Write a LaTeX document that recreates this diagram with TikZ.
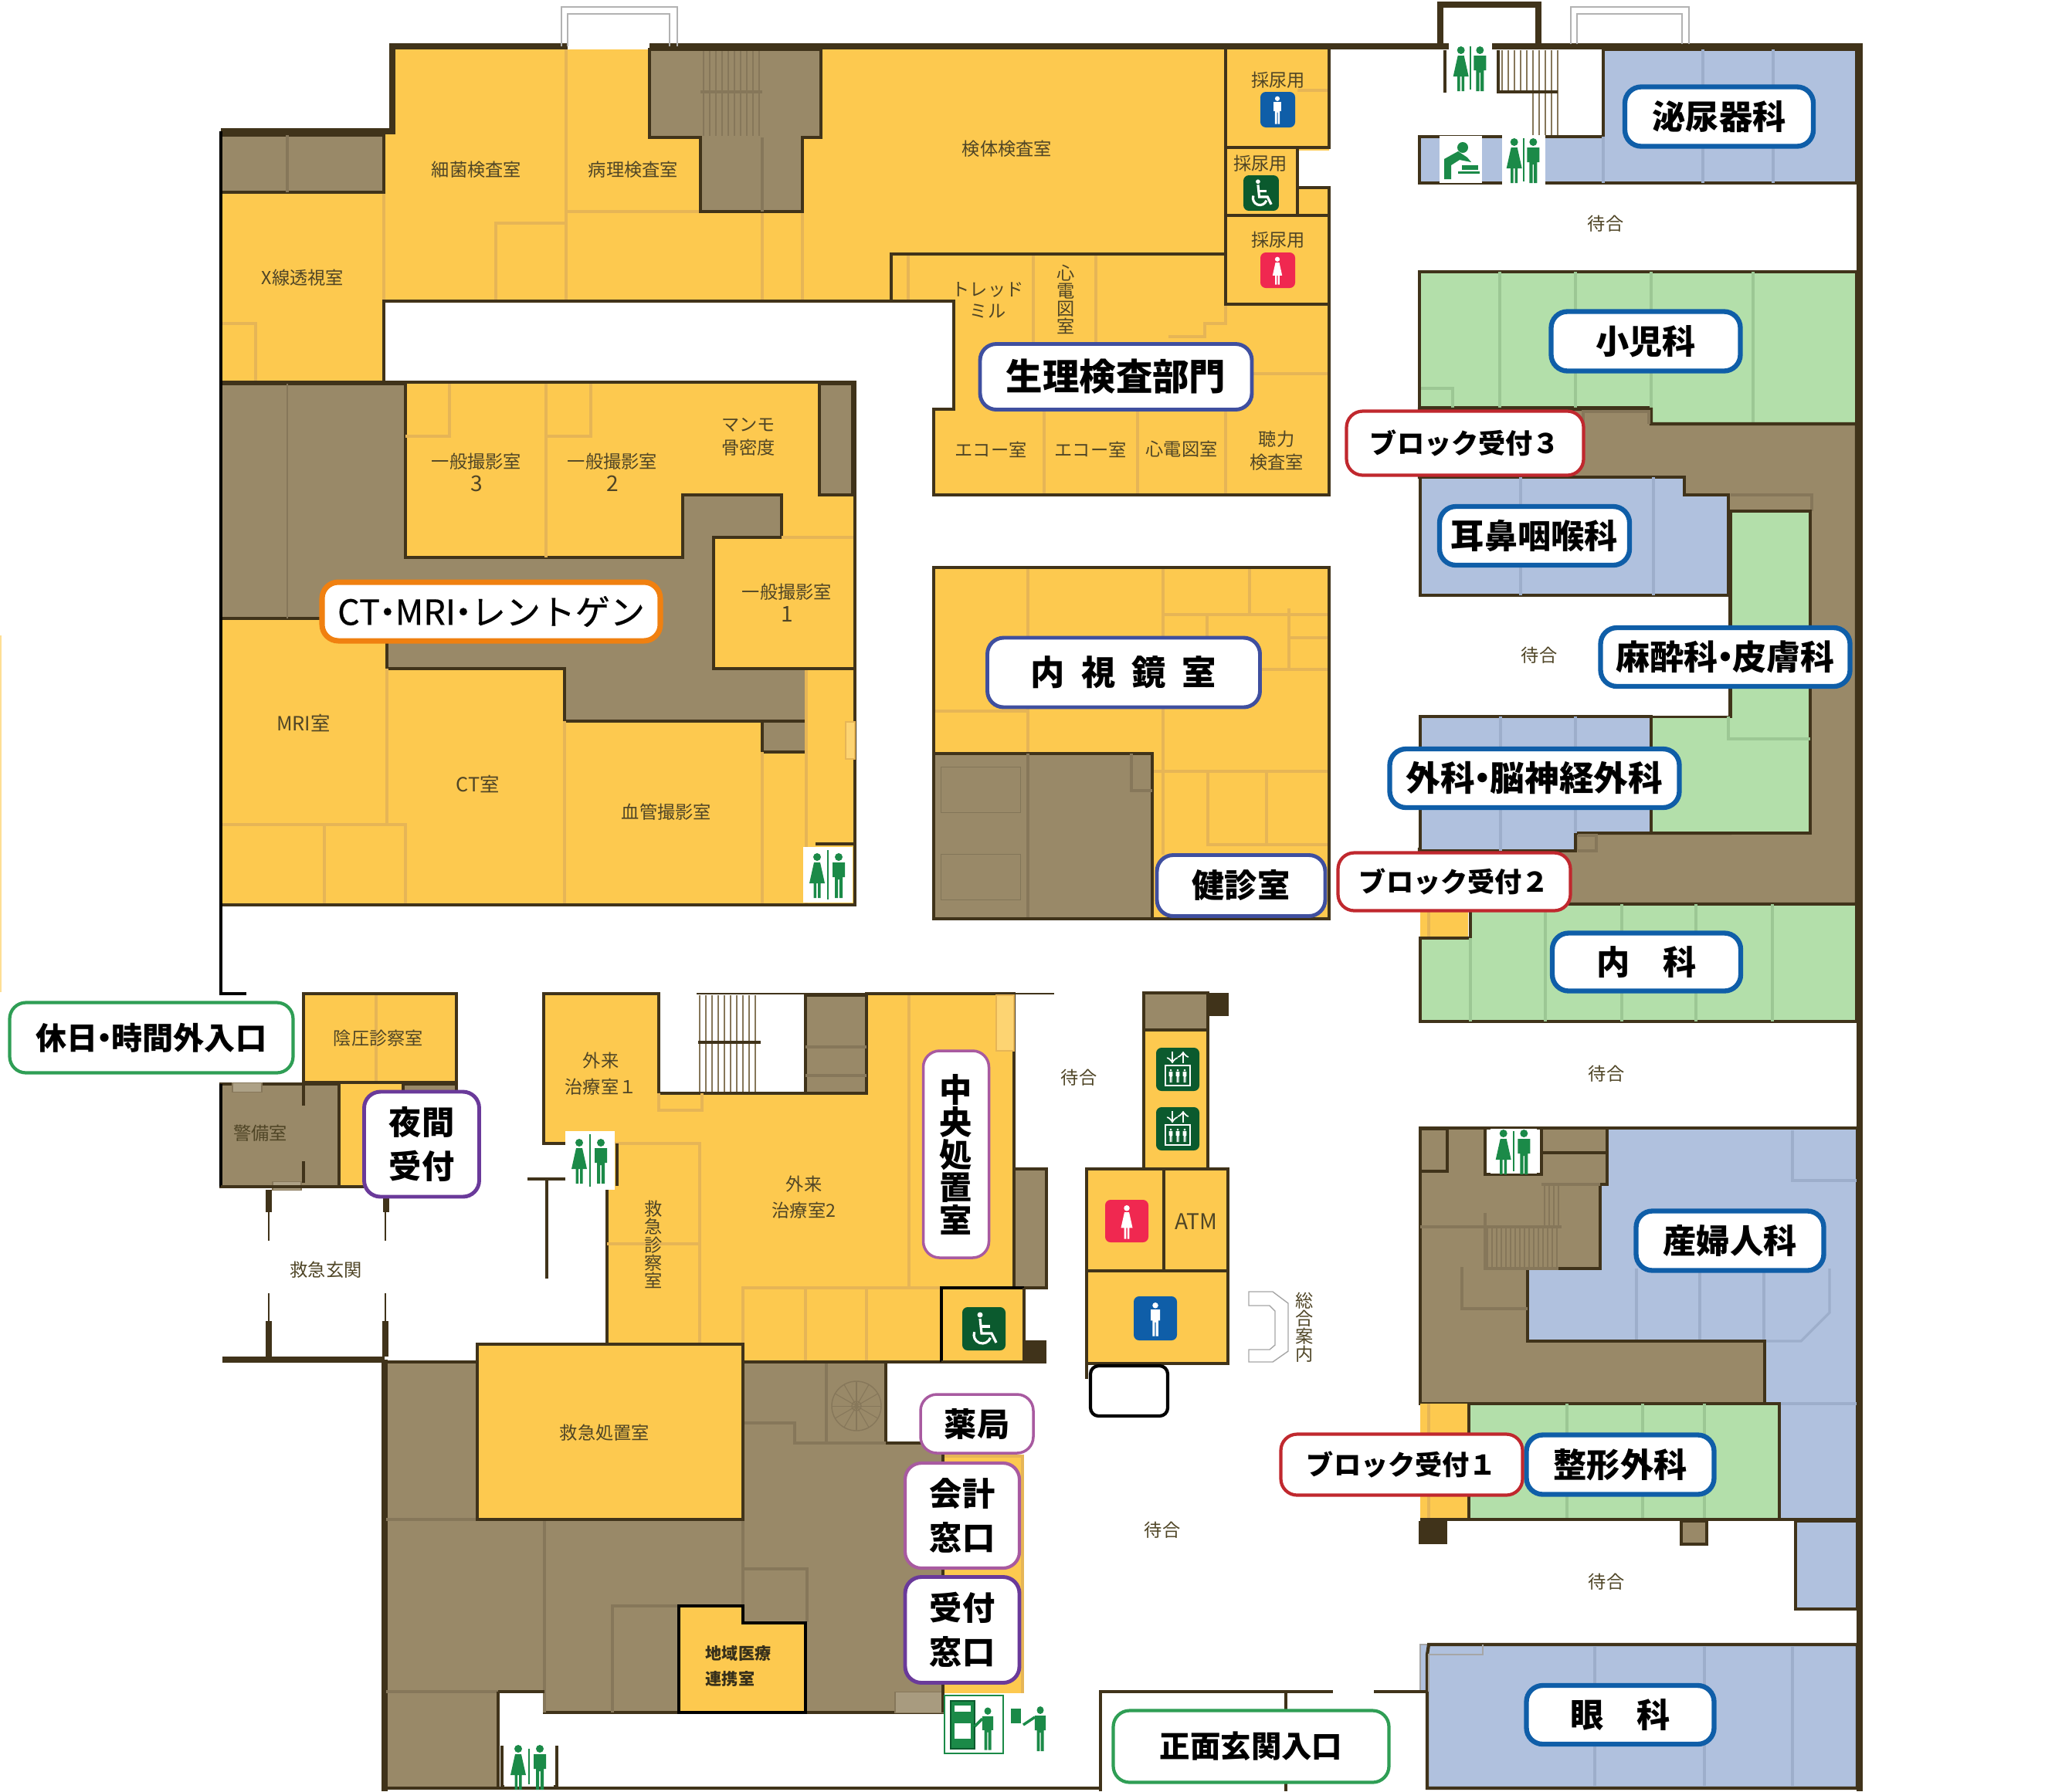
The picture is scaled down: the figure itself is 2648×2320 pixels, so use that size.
\documentclass[tikz,border=0pt]{standalone}
\usepackage{fontspec}
\setmainfont{Noto Sans CJK JP}
\newfontfamily\jpmed{Noto Sans CJK JP}[FakeBold=0.5]
\usepackage{xcolor}

\definecolor{yelc}{HTML}{FDC94F}
\definecolor{yell}{HTML}{E6B556}
\definecolor{brnc}{HTML}{998968}
\definecolor{brnl}{HTML}{86775A}
\definecolor{bluc}{HTML}{B0C1DE}
\definecolor{blul}{HTML}{9DAECB}
\definecolor{grnc}{HTML}{B3DFAA}
\definecolor{grnl}{HTML}{9CC794}
\definecolor{wallc}{HTML}{40331A}
\definecolor{txtc}{HTML}{4F4526}
\definecolor{signg}{HTML}{1B8A48}
\definecolor{signd}{HTML}{0B5A2E}
\definecolor{signb}{HTML}{0F5EA8}
\definecolor{signr}{HTML}{F02850}
\definecolor{tagnavy}{HTML}{3F4F9F}
\definecolor{tagorg}{HTML}{F08010}
\definecolor{tagblu}{HTML}{0F5EA8}
\definecolor{tagred}{HTML}{C0282E}
\definecolor{taggrn}{HTML}{2F9E55}
\definecolor{tagpur}{HTML}{6A3A9A}
\definecolor{tagpnk}{HTML}{A85AA0}

\newcommand{\fsz}[1]{\fontsize{#1}{#1}\selectfont}
\newcommand{\ndot}{\hspace{-0.28em}・\hspace{-0.28em}}

\tikzset{
  wall/.style={wallc,line width=1.2pt},
  wallx/.style={wallc,line width=2.4pt},
  fline/.style={yell,line width=0.9pt},
  bline/.style={brnl,line width=0.9pt},
  uline/.style={blul,line width=0.9pt},
  gline/.style={grnl,line width=0.9pt},
  stairl/.style={brnl,line width=0.3pt},
  rm/.style={font=\bfseries\fsz{6},text=txtc!70!black,inner sep=0,align=left},
  rmv/.style={font=\fsz{6.6},text=txtc,inner sep=0,align=center},
  tag/.style n args={3}{draw=#1,fill=white,rounded corners=6pt,line width=1.8pt,inner sep=0,align=center,text=black,
    minimum width=#2*0.01cm,minimum height=#3*0.01cm},
  pics/man/.style={code={
    \fill[#1] (0,-23) circle [radius=5];
    \fill[#1] (-8,-16)--(8,-16)--(8,3)--(5,3)--(5,30)--(0.8,30)--(0.8,6)--(-0.8,6)--(-0.8,30)--(-5,30)--(-5,3)--(-8,3)--cycle;
  }},
  pics/lady/.style={code={
    \fill[#1] (0,-23) circle [radius=5];
    \fill[#1] (-4,-16)--(4,-16)--(10,11)--(4.5,11)--(4.5,30)--(1,30)--(1,11)--(-1,11)--(-1,30)--(-4.5,30)--(-4.5,11)--(-10,11)--cycle;
  }},
  pics/wcsign/.style={code={
    \fill[white] (-32,-36) rectangle (32,36);
    \pic at (-14,0) {lady=signg};
    \pic at (14,0) {man=signg};
    \draw[signg,line width=0.5pt] (0,-32)--(0,32);
  }},
  pics/wheelc/.style={code={
    \fill[signd,rounded corners=2pt] (-28,-28) rectangle (28,28);
    \fill[white] (-5,-18) circle [radius=3.5];
    \draw[white,line width=0.9pt] (-5,-13)--(-3,6)--(10,6)--(16,18);
    \draw[white,line width=0.9pt] (-4,-3)--(8,-3);
    \draw[white,line width=0.9pt] (-12.3,4.2) arc (200:20:11);
  }},
  pics/liftsign/.style={code={
    \fill[signd,rounded corners=2pt] (-28,-28) rectangle (28,28);
    \draw[white,line width=0.6pt,->,>=to] (-7,-23)--(-7,-8);
    \draw[white,line width=0.6pt,->,>=to] (7,-8)--(7,-23);
    \draw[white,line width=0.5pt] (-16,-5) rectangle (16,21);
    \foreach \x in {-9,0,9} {\pic[scale=0.3] at (\x,8) {man=white};}
  }}
}

\begin{document}
\begin{tikzpicture}[x=0.01cm,y=-0.01cm]
\useasboundingbox (0,0) rectangle (2648,2320);

\fill[yelc!60!white] (0,823) rectangle (2,1285);

% upper wing
\begin{scope} {
\fill[yelc] (508,64)--(1721,64)--(1721,641)--(1209,641)--(1209,530)--(1235,530)--(1235,392)--(497,392)--(497,495)--(286,495)--(286,170)--(508,170)--cycle;
\fill[white] (1680,195) rectangle (1730,243);

\draw[fline] (733,60)--(733,390);
\draw[fline] (733,274)--(907,274);
\draw[fline] (642,390)--(642,289)--(733,289);
\draw[fline] (497,249)--(497,392);
\draw[fline] (987,274)--(987,390);
\draw[fline] (1039,274)--(1039,390);
\draw[fline] (286,419)--(331,419)--(331,495);
\draw[fline] (1176,329)--(1176,390);
\draw[fline] (1338,329)--(1338,445);
\draw[fline] (1419,329)--(1419,445);
\draw[fline] (1587,394)--(1587,419)--(1560,419)--(1560,436)--(1513,436);
\draw[fline] (1623,484)--(1721,484);
\draw[fline] (1352,530)--(1352,641);
\draw[fline] (1473,530)--(1473,641);
\draw[fline] (1587,530)--(1587,641);
\draw[fline] (1680,117)--(1721,117);

\filldraw[wall,fill=brnc] (286,175) rectangle (497,249);
\draw[bline] (372,175)--(372,249);
\filldraw[wall,fill=brnc] (841,64)--(1063,64)--(1063,178)--(1039,178)--(1039,274)--(907,274)--(907,178)--(841,178)--cycle;
\draw[bline] (987,178)--(987,274);
\foreach \x in {911,919,...,987} {\draw[stairl] (\x,66)--(\x,176);}
\draw[bline] (907,119)--(987,119);

\draw[wallx] (286,170)--(508,170)--(508,60)--(735,60);
\draw[wallx] (841,60)--(2412,60);
\draw[wall] (286,495)--(497,495)--(497,390)--(1235,390)--(1235,530)--(1209,530)--(1209,641)--(1721,641)--(1721,243)--(1680,243);
\draw[wall] (1154,390)--(1154,329)--(1587,329);
\draw[wall] (1587,64)--(1587,394)--(1721,394);
\draw[wall] (1587,191)--(1721,191)--(1721,64);
\draw[wall] (1587,279)--(1721,279);
\draw[wall] (1680,191)--(1680,279);

\draw[gray!60,line width=0.4pt] (727,60)--(727,9)--(877,9)--(877,60);
\draw[gray!60,line width=0.4pt] (735,60)--(735,18)--(867,18)--(867,60);

\fill[signb,rounded corners=2pt] (1632,119) rectangle (1677,165);
\pic[scale=0.62] at (1654,142) {man=white};
\pic[scale=0.82] at (1633,250) {wheelc};
\fill[signr,rounded corners=2pt] (1632,327) rectangle (1677,373);
\pic[scale=0.62] at (1654,350) {lady=white};
}\end{scope}

% imaging block
\begin{scope} {
\fill[yelc] (286,495) rectangle (1107,1172);
\filldraw[wall,fill=brnc] (286,497)--(525,497)--(525,722)--(884,722)--(884,641)--(1012,641)--(1012,696)--(924,696)--(924,866)--(1044,866)--(1044,934)--(731,934)--(731,866)--(501,866)--(501,801)--(286,801)--cycle;
\filldraw[wall,fill=brnc] (1061,497) rectangle (1104,641);
\filldraw[wall,fill=brnc] (987,934) rectangle (1044,974);
\draw[brnl,line width=0.4pt] (372,497)--(372,801);

\draw[fline] (707,497)--(707,722);
\draw[fline] (525,565)--(582,565)--(582,497);
\draw[fline] (707,565)--(765,565)--(765,497);
\draw[fline] (1012,696)--(1107,696);
\draw[fline] (286,1068)--(525,1068)--(525,1172);
\draw[fline] (420,1068)--(420,1172);
\draw[fline] (501,866)--(501,1068);
\draw[fline] (731,934)--(731,1172);
\draw[fline] (987,974)--(987,1172);
\draw[fline] (1044,866)--(1044,1172);
\draw[wall] (924,866)--(1107,866);
\draw[wall] (286,495)--(1107,495)--(1107,1172)--(286,1172);
\draw[black,line width=1.2pt] (286,170)--(286,1287)--(319,1287);
\filldraw[yell,fill=yelc!80!white,line width=0.3pt] (1095,935) rectangle (1107,983);
\draw[wall] (1056,1093)--(1107,1093);
\pic[xscale=1,yscale=1] at (1072,1133) {wcsign};
}\end{scope}

% endoscopy block
\begin{scope} {
\fill[yelc] (1209,735) rectangle (1721,1190);
\draw[fline] (1331,735)--(1331,976);
\draw[fline] (1209,921)--(1331,921);
\draw[fline] (1506,735)--(1506,976);
\draw[fline] (1506,796)--(1721,796);
\draw[fline] (1618,735)--(1618,796);
\draw[fline] (1669,788)--(1669,867)--(1721,867);
\draw[fline] (1669,826)--(1721,826);
\draw[fline] (1563,796)--(1563,826);
\draw[fline] (1506,867)--(1669,867);
\draw[fline] (1492,999)--(1721,999);
\draw[fline] (1564,999)--(1564,1094)--(1721,1094);
\draw[fline] (1640,999)--(1640,1094);
\draw[fline] (1506,867)--(1506,1107);

\filldraw[wall,fill=brnc] (1209,976) rectangle (1492,1190);
\draw[bline] (1331,976)--(1331,1190);
\draw[brnc!85!black,line width=0.2pt] (1218,993) rectangle (1321,1052);
\draw[brnc!85!black,line width=0.2pt] (1218,1106) rectangle (1321,1165);
\draw[bline] (1465,976)--(1465,1024)--(1492,1024);
\draw[wall] (1209,735)--(1721,735)--(1721,1190)--(1209,1190)--cycle;
}\end{scope}

% east wing
\begin{scope} {
\draw[wallx] (1865,60)--(1865,6)--(1992,6)--(1992,60);
\draw[gray!60,line width=0.4pt] (2034,57)--(2034,9)--(2187,9)--(2187,57);
\draw[gray!60,line width=0.4pt] (2042,57)--(2042,18)--(2178,18)--(2178,57);

\foreach \x in {1945,1953,...,2017} {\draw[stairl] (\x,65)--(\x,119);}
\foreach \x in {1985,1993,...,2017} {\draw[stairl] (\x,119)--(\x,176);}
\draw[wall] (1871,65)--(1871,120);
\draw[wall,line width=1.3pt] (1940,65)--(1940,119)--(2017,119);

\filldraw[wall,fill=bluc] (2076,64)--(2404,64)--(2404,237)--(1838,237)--(1838,177)--(2076,177)--cycle;
\draw[uline] (2205,64)--(2205,237);
\draw[uline] (2296,64)--(2296,237);
\draw[uline] (2076,177)--(2076,237);
\pic[scale=0.88] at (1904,88) {wcsign};
\pic[scale=0.88] at (1973,207) {wcsign};
\fill[white] (1864,176) rectangle (1919,237);
\fill[signg] (1894,191) circle [radius=7];
\fill[signg] (1870,232)--(1870,206)--(1888,196)--(1900,204)--(1905,210)--(1890,207)--(1879,214)--(1879,232)--cycle;
\fill[signg] (1888,222) rectangle (1916,225);
\fill[signg] (1893,214) rectangle (1914,220);

% childrens
\filldraw[wall,fill=grnc] (1838,352)--(2404,352)--(2404,549)--(2138,549)--(2138,528)--(1838,528)--cycle;
\draw[gline] (1942,352)--(1942,528);
\draw[gline] (2040,352)--(2040,528);
\draw[gline] (2138,352)--(2138,528);
\draw[gline] (2270,352)--(2270,549);
\draw[gline] (1840,503)--(1881,503)--(1881,528);

\filldraw[wall,fill=brnc] (1838,530)--(2138,530)--(2138,549)--(2404,549)--(2404,1171)--(1838,1171)--(1838,1100)--(2040,1100)--(2040,1079)--(2240,1079)--(2240,700)--(2040,618)--(1838,618)--cycle;
\draw[bline] (2050,549)--(2050,533)--(2135,533)--(2135,549);
\draw[bline] (2241,641)--(2346,641)--(2346,662);

\filldraw[wall,fill=grnc] (2241,662)--(2344,662)--(2344,1079)--(2138,1079)--(2138,928)--(2241,928)--cycle;
\draw[gline] (2238,928)--(2238,957)--(2344,957);

\filldraw[wall,fill=bluc] (1839,618)--(2181,618)--(2181,641)--(2238,641)--(2238,771)--(1839,771)--cycle;
\draw[uline] (1969,618)--(1969,771);
\draw[uline] (2141,618)--(2141,771);
\fill[white] (1838,773) rectangle (2238,927);

\filldraw[wall,fill=bluc] (1839,928)--(2138,928)--(2138,1079)--(2040,1079)--(2040,1102)--(1839,1102)--cycle;
\draw[uline] (1943,928)--(1943,1102);
\draw[uline] (2040,928)--(2040,1079);
\draw[bline] (2043,1082)--(2067,1082)--(2067,1102)--(2043,1102);

% internal medicine
\fill[yelc] (1839,1171) rectangle (1901,1215);
\draw[fline] (1850,1171)--(1850,1215);
\filldraw[wall,fill=grnc] (1904,1171)--(2404,1171)--(2404,1323)--(1839,1323)--(1839,1215)--(1904,1215)--cycle;
\draw[gline] (1904,1215)--(1904,1323);
\draw[gline] (2001,1171)--(2001,1323);
\draw[gline] (2100,1171)--(2100,1323);
\draw[gline] (2196,1171)--(2196,1323);
\draw[gline] (2295,1171)--(2295,1323);

% obstetrics
\filldraw[wall,fill=bluc] (2081,1461)--(2405,1461)--(2405,1968)--(2304,1968)--(2304,1818)--(2285,1818)--(2285,1737)--(1978,1737)--(1978,1643)--(2072,1643)--(2072,1534)--(2081,1534)--cycle;
\draw[uline] (2405,1529)--(2321,1529)--(2321,1464);
\draw[uline] (2119,1643)--(2119,1737);
\draw[uline] (2201,1643)--(2201,1737);
\draw[uline] (2284,1643)--(2284,1737);
\draw[uline] (2369,1643)--(2369,1700)--(2332,1737)--(2285,1737);
\draw[uline] (2304,1818)--(2405,1818);

\filldraw[wall,fill=brnc] (1839,1461)--(2081,1461)--(2081,1534)--(2072,1534)--(2072,1643)--(1978,1643)--(1978,1737)--(2285,1737)--(2285,1818)--(1839,1818)--cycle;
\filldraw[wall,fill=brnc] (1839,1462) rectangle (1874,1517);
\draw[wall] (1996,1493)--(2081,1493);
\draw[bline] (1996,1534)--(2072,1534);
\foreach \x in {2000,2006,...,2018} {\draw[stairl] (\x,1536)--(\x,1589);}
\foreach \x in {1926,1932,...,2018} {\draw[stairl] (\x,1591)--(\x,1642);}
\draw[bline] (1839,1589)--(2022,1589);
\draw[bline] (1923,1571)--(1923,1643)--(2018,1643);
\draw[bline] (1893,1641)--(1893,1695)--(1978,1695);
\draw[wall,line width=1.4pt,fill=white] (1923,1461) rectangle (1996,1521);
\pic[xscale=0.95,yscale=0.8] at (1960,1491) {wcsign};

% orthopedics
\filldraw[wall,fill=grnc] (1902,1818)--(2304,1818)--(2304,1968)--(1902,1968)--cycle;
\draw[gline] (2029,1818)--(2029,1968);
\draw[gline] (2127,1818)--(2127,1968);
\draw[gline] (2207,1818)--(2207,1968);
\fill[yelc] (1839,1818) rectangle (1900,1968);
\draw[fline] (1850,1818)--(1850,1968);
\draw[wall] (1839,1968)--(2405,1968);
\fill[wallc] (1837,1970) rectangle (1874,2000);
\filldraw[wall,fill=brnc] (2177,1970) rectangle (2210,2000);
\filldraw[wall,fill=bluc] (2325,1970) rectangle (2405,2084);

% eyes
\filldraw[gray!70,line width=0.4pt,fill=bluc] (1839,2130)--(1920,2130)--(1920,2143)--(1850,2143)--(1850,2191)--(1839,2191)--cycle;
\filldraw[wall,fill=bluc] (1850,2130)--(2405,2130)--(2405,2316)--(1848,2316)--(1848,2143)--cycle;
\fill[bluc] (1852,2144) rectangle (1918,2190);
\draw[gray!70,line width=0.4pt] (1920,2130)--(1920,2143)--(1850,2143)--(1850,2191);
\draw[uline] (2065,2132)--(2065,2314);
\draw[uline] (2207,2132)--(2207,2314);
\draw[uline] (2321,2132)--(2321,2314);
\draw[wallx] (2408,60)--(2408,2320);
}\end{scope}

% central lift core
\begin{scope} {
\filldraw[wall,fill=yelc] (1481,1286) rectangle (1564,1514);
\filldraw[wall,fill=brnc] (1481,1286) rectangle (1564,1334);
\fill[wallc] (1564,1286) rectangle (1591,1316);
\pic at (1525,1385) {liftsign};
\pic at (1525,1462) {liftsign};
\filldraw[wall,fill=yelc] (1407,1514) rectangle (1590,1766);
\draw[wall] (1507,1514)--(1507,1646);
\draw[wall] (1407,1646)--(1590,1646);
\fill[signr,rounded corners=2pt] (1431,1554) rectangle (1487,1609);
\pic[scale=0.75] at (1459,1582) {lady=white};
\fill[signb,rounded corners=2pt] (1468,1679) rectangle (1524,1736);
\pic[scale=0.75] at (1496,1708) {man=white};
\draw[wall] (1407,1766)--(1407,1786);
\draw[black,line width=1.2pt,fill=white,rounded corners=3pt] (1412,1769) rectangle (1512,1834);
\draw[gray!70,line width=0.4pt] (1617,1673)--(1648,1673)--(1668,1688)--(1668,1750)--(1648,1764)--(1617,1764)--(1617,1748)--(1644,1748)--(1651,1742)--(1651,1698)--(1644,1691)--(1617,1691)--cycle;
}\end{scope}

% entrance walls
\begin{scope} {
\draw[wall] (1425,2320)--(1425,2191)--(1726,2191);
\draw[wall] (1779,2191)--(1848,2191);
\draw[wall] (1665,2191)--(1665,2215);
\draw[wall] (1665,2307)--(1665,2320);
\draw[wall] (645,2316)--(1425,2316);
}\end{scope}

% southwest, outpatients
\begin{scope} {
\filldraw[wall,fill=yelc] (393,1287) rectangle (591,1402);
\draw[fline] (487,1289)--(487,1400);
\fill[yelc] (439,1404) rectangle (530,1535);
\filldraw[wall,fill=brnc] (522,1404) rectangle (591,1416);
\filldraw[wall,fill=brnc] (286,1404) rectangle (439,1537);
\draw[black,line width=1.2pt] (286,1404)--(286,1537);
\filldraw[brnl,fill=brnc!80!white,line width=0.3pt] (301,1402) rectangle (339,1414);
\filldraw[brnl,fill=brnc!80!white,line width=0.3pt] (353,1530) rectangle (390,1541);
\draw[wall] (393,1404)--(393,1432);
\draw[wall] (393,1504)--(393,1532);
\draw[wall] (286,1537)--(480,1537);

\draw[wallx] (348,1541)--(348,1570);
\draw[wallx] (500,1541)--(500,1570);
\draw[wall,line width=0.3pt] (348,1570)--(348,1607);
\draw[wall,line width=0.3pt] (499,1570)--(499,1607);
\draw[wall,line width=0.3pt] (348,1675)--(348,1711);
\draw[wall,line width=0.3pt] (499,1675)--(499,1711);
\draw[wallx] (348,1711)--(348,1757);
\draw[wallx] (499,1711)--(499,1757);
\draw[wallx] (288,1761)--(498,1761);

\filldraw[wall,fill=yelc] (704,1287)--(853,1287)--(853,1416)--(1122,1416)--(1122,1287)--(1313,1287)--(1313,1668)--(1326,1668)--(1326,1764)--(962,1764)--(962,1741)--(786,1741)--(786,1481)--(704,1481)--cycle;
\fill[white] (855,1280) rectangle (1043,1414);
\foreach \x in {906,914,...,982} {\draw[stairl] (\x,1289)--(\x,1414);}
\draw[wall,line width=1.3pt] (904,1350)--(985,1350);
\filldraw[wall,fill=brnc] (1043,1289) rectangle (1122,1416);
\draw[bline] (1043,1356)--(1122,1356);
\draw[bline] (1043,1393)--(1122,1393);
\draw[wall,line width=0.8pt] (902,1287)--(1365,1287);
\draw[fline] (853,1416)--(853,1438)--(909,1438)--(909,1416);
\draw[fline] (786,1481)--(906,1481)--(906,1741);
\draw[fline] (786,1611)--(906,1611);
\draw[fline] (1177,1289)--(1177,1668);
\draw[fline] (962,1741)--(962,1668)--(1219,1668);
\draw[fline] (1043,1668)--(1043,1764);
\draw[fline] (1122,1668)--(1122,1764);
\filldraw[yell,fill=yelc!80!white,line width=0.3pt] (1290,1289) rectangle (1313,1361);
\filldraw[wall,fill=brnc] (1313,1514) rectangle (1355,1668);
\filldraw[yelc,draw=none] (1219,1668) rectangle (1326,1764);
\draw[black,line width=1.2pt] (1219,1764)--(1219,1668)--(1326,1668);
\fill[wallc] (1326,1736) rectangle (1355,1766);
\draw[wall] (1219,1764)--(1326,1764)--(1326,1668);
\pic at (1274,1721) {wheelc};

\pic[xscale=1,yscale=1.05] at (764,1503) {wcsign};
\draw[wall] (799,1481)--(799,1536);
\draw[wall] (683,1527)--(732,1527);
\draw[wall] (708,1527)--(708,1656);

% southern brown block
\filldraw[wall,fill=brnc] (500,1764)--(618,1764)--(962,1764)--(1147,1764)--(1147,1869)--(1221,1869)--(1221,2218)--(705,2218)--(705,2191)--(645,2191)--(645,2316)--(500,2316)--cycle;
\draw[wallx] (498,1761)--(498,2320);
\draw[bline] (500,1968)--(618,1968);
\draw[bline] (500,2191)--(645,2191);
\draw[bline] (705,1968)--(705,2218);
\draw[bline] (793,2218)--(793,2080)--(879,2080);
\draw[bline] (962,1968)--(962,2080);
\draw[bline] (962,2032)--(1045,2032)--(1045,2101);
\draw[bline] (1070,1766)--(1070,1869);
\draw[bline] (964,1843)--(1029,1843)--(1029,1869)--(1147,1869);
\draw[brnl,line width=0.4pt] (1109,1821) circle [radius=32];
\draw[brnl,line width=0.4pt] (1109,1821) circle [radius=6];
\foreach \a in {0,30,...,330} {\draw[brnl,line width=0.3pt] (1109,1821)--++(\a:32);}
\filldraw[brnl,fill=brnc!85!white,line width=0.3pt] (1159,2191) rectangle (1221,2218);

\filldraw[wall,fill=yelc] (618,1741)--(786,1741)--(962,1741)--(962,1968)--(618,1968)--cycle;
\filldraw[black,line width=1.2pt,fill=yelc] (879,2080)--(962,2080)--(962,2102)--(1043,2102)--(1043,2218)--(879,2218)--cycle;
\fill[yelc] (1221,1886) rectangle (1324,2193);
\draw[fline] (1221,1886)--(1324,1886)--(1324,2193);
\draw[wall] (1221,1869)--(1221,2218);
\draw[wall] (645,2191)--(705,2191);
\draw[wall] (645,2191)--(645,2316);
\draw[wall,line width=1.3pt,fill=white] (650,2261)--(650,2314)--(721,2314)--(721,2261);
\pic[xscale=1,yscale=0.72] at (685,2288) {wcsign};

\filldraw[signg,fill=white,line width=0.5pt] (1223,2196) rectangle (1299,2271);
\filldraw[signd,fill=signg] (1231,2203) rectangle (1262,2265);
\fill[white] (1236,2209) rectangle (1257,2217);
\fill[white] (1236,2232) rectangle (1257,2252);
\pic[xscale=0.9,yscale=0.95] at (1279,2238) {man=signg};
\draw[signg,line width=1pt] (1272,2226)--(1262,2236);
\pic[xscale=0.9,yscale=1.0] at (1347,2238) {man=signg};
\draw[signg,line width=1pt] (1340,2224)--(1325,2234);
\fill[signg] (1309,2213) rectangle (1322,2232);
}\end{scope}

% room names
\node[rmv] (saikin) at (617,220) {細菌検査室};
\node[rmv] (byori) at (820,220) {病理検査室};
\node[rmv] (kentai) at (1304,193) {検体検査室};
\node[rmv] (nyoa) at (1655,104) {採尿用};
\node[rmv] (nyob) at (1632,212) {採尿用};
\node[rmv] (nyoc) at (1655,311) {採尿用};
\node[rmv] (xsen) at (392,360) {X線透視室};
\node[rmv] (tread) at (1279,389) {トレッド\\[1.4pt]ミル};
\node[rmv] (shinv) at (1380,388) {心\\電\\図\\室};
\node[rmv] (echoa) at (1283,582) {エコー室};
\node[rmv] (echob) at (1412,582) {エコー室};
\node[rmv] (shin) at (1530,582) {心電図室};
\node[rmv] (choryoku) at (1653,584) {聴力\\[2pt]検査室};
\node[rmv] (mammo) at (969,566) {マンモ\\[2pt]骨密度};
\node[rmv] (ippan3) at (617,612) {一般撮影室\\[2pt]{\fsz{8}3}};
\node[rmv] (ippan2) at (793,612) {一般撮影室\\[2pt]{\fsz{8}2}};
\node[rmv] (ippan1) at (1019,781) {一般撮影室\\[2pt]{\fsz{8}1}};
\node[rmv,font=\fsz{7.2}] (mri) at (393,937) {MRI室};
\node[rmv,font=\fsz{7.2}] (ct) at (619,1016) {CT室};
\node[rmv] (kekkan) at (863,1052) {血管撮影室};
\node[rmv] (machia) at (2079,290) {待合};
\node[rmv] (machib) at (1993,849) {待合};
\node[rmv] (machic) at (2080,1391) {待合};
\node[rmv] (machid) at (1397,1396) {待合};
\node[rmv] (machie) at (1505,1982) {待合};
\node[rmv] (machif) at (2080,2049) {待合};
\node[rmv,font=\fsz{8}] (atm) at (1549,1582) {ATM};
\node[rmv] (sogo) at (1689,1719) {総\\合\\案\\内};
\node[rmv] (inatsu) at (490,1345) {陰圧診察室};
\node[rmv] (keibi) at (337,1468) {警備室};
\node[rmv] (genkan) at (422,1645) {救急玄関};
\node[rmv] (chiryo1) at (778,1391) {外来\\[3pt]治療室１};
\node[rmv] (chiryo2) at (1041,1551) {外来\\[3pt]治療室2};
\node[rmv] (shinsatsu) at (846,1612) {救\\急\\診\\察\\室};
\node[rmv] (shochi) at (783,1856) {救急処置室};
\node[rm] (renkei) at (956,2158) {地域医療\\[3.5pt]連携室};

% tags
\node[tag={tagnavy}{352}{85},font=\bfseries\fsz{13.5},line width=1.4pt] (seiri) at (1445,488) {生理検査部門};
\node[tag={tagorg}{438}{76},font=\jpmed\fsz{12.8},line width=2pt] (ctmri) at (636,792) {CT\ndot MRI\ndot レントゲン};
\node[tag={tagnavy}{353}{90},font=\bfseries\fsz{12.6},line width=1.4pt] (naishi) at (1455,871) {内\hspace{6pt}視\hspace{6pt}鏡\hspace{6pt}室};
\node[tag={tagnavy}{218}{79},font=\bfseries\fsz{12},line width=1.4pt] (kenshin) at (1607,1147) {健診室};
\node[tag={tagblu}{244}{77},font=\fsz{12.3}\bfseries] (hinyo) at (2226,151) {泌尿器科};
\node[tag={tagblu}{245}{77},font=\fsz{12.3}\bfseries] (shoni) at (2131,442) {小児科};
\node[tag={tagblu}{246}{76},font=\fsz{12.3}\bfseries] (jibi) at (1987,694) {耳鼻咽喉科};
\node[tag={tagblu}{323}{76},font=\fsz{12.5}\bfseries] (masui) at (2234,851) {麻酔科\ndot 皮膚科};
\node[tag={tagblu}{375}{76},font=\fsz{12.7}\bfseries] (geka) at (1987,1008) {外科\ndot 脳神経外科};
\node[tag={tagblu}{244}{75},font=\fsz{12.3}\bfseries] (naika) at (2132,1246) {内　科};
\node[tag={tagblu}{243}{77},font=\fsz{12.3}\bfseries] (sanfu) at (2240,1607) {産婦人科};
\node[tag={tagblu}{243}{77},font=\fsz{12.3}\bfseries] (seikei) at (2098,1897) {整形外科};
\node[tag={tagblu}{243}{76},font=\fsz{12.3}\bfseries] (ganka) at (2098,2221) {眼　科};
\node[tag={tagred}{307}{83},font=\fsz{10}\bfseries,line width=1.2pt] (block3) at (1897,574) {ブロック受付３};
\node[tag={tagred}{301}{75},font=\fsz{10}\bfseries,line width=1.2pt] (block2) at (1883,1142) {ブロック受付２};
\node[tag={tagred}{313}{79},font=\fsz{10}\bfseries,line width=1.2pt] (block1) at (1815,1897) {ブロック受付１};
\node[tag={taggrn}{367}{91},font=\fsz{11.4}\bfseries,line width=1.2pt] (kyujitsu) at (196,1344) {休日\ndot 時間外入口};
\node[tag={taggrn}{357}{93},font=\fsz{11.2}\bfseries,line width=1.2pt] (shomen) at (1620,2262) {正面玄関入口};
\node[tag={tagpur}{149}{136},font=\fsz{12}\bfseries,line width=1.4pt] (yakan) at (546,1482) {夜間\\[4.2pt]受付};
\node[tag={tagpnk}{85}{268},font=\fsz{12}\bfseries,line width=1pt] (chuo) at (1238,1495) {中\\央\\処\\置\\室};
\node[tag={tagpnk}{146}{76},font=\fsz{12}\bfseries,line width=1pt] (yakkyoku) at (1265,1844) {薬局};
\node[tag={tagpnk}{148}{136},font=\fsz{12}\bfseries,line width=1.2pt] (kaikei) at (1246,1963) {会計\\[4.2pt]窓口};
\node[tag={tagpur}{148}{137},font=\fsz{12}\bfseries,line width=1.4pt] (uketsuke) at (1246,2111) {受付\\[4.2pt]窓口};

\end{tikzpicture}
\end{document}
